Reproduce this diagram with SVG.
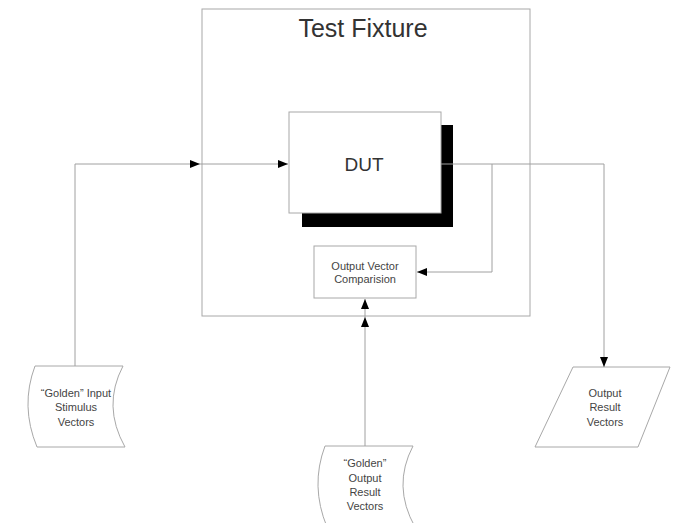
<svg xmlns="http://www.w3.org/2000/svg" width="676" height="523" viewBox="0 0 676 523">
<defs>
<style>
.box{fill:#fff;stroke:#a8a8a8;stroke-width:1}
.ln{fill:none;stroke:#a0a0a0;stroke-width:1}
.t{font-family:"Liberation Sans",Arial,sans-serif;fill:#333;text-anchor:middle}
.s{font-size:11px;fill:#444}
</style>
<marker id="ah" viewBox="0 0 10 8" refX="10" refY="4" markerWidth="10" markerHeight="8" markerUnits="userSpaceOnUse" orient="auto">
<path d="M0,0 L10,4 L0,8 Z" fill="#000"/>
</marker>
</defs>
<rect width="676" height="523" fill="#fff"/>
<g id="fixture">
<rect class="box" x="202" y="9" width="328" height="307"/>
<text class="t" x="363" y="37" font-size="25" fill="#222">Test Fixture</text>
</g>
<g id="dut">
<rect x="302" y="125" width="151" height="102" fill="#000"/>
<rect class="box" x="289" y="112" width="152" height="101"/>
<text class="t" x="364" y="171" font-size="19">DUT</text>
</g>
<g id="comparison">
<rect class="box" x="314" y="246" width="102" height="52"/>
<text class="t s" x="365" y="270">Output Vector</text>
<text class="t s" x="365" y="283">Comparision</text>
</g>
<g id="golden-input">
<path class="box" d="M35,366 L123,366 Q102,406 125,447 L37,447 Q20,406 35,366 Z"/>
<text class="t s" x="76" y="397">“Golden” Input</text>
<text class="t s" x="76" y="411">Stimulus</text>
<text class="t s" x="76" y="426">Vectors</text>
</g>
<g id="golden-output">
<path class="box" d="M325,446 L413,446 Q392,486 415,527 L327,527 Q310,486 325,446 Z"/>
<text class="t s" x="365" y="467">“Golden”</text>
<text class="t s" x="365" y="482">Output</text>
<text class="t s" x="365" y="496">Result</text>
<text class="t s" x="365" y="510">Vectors</text>
</g>
<g id="output-result">
<path class="box" d="M573,367 L670,367 L638,447 L535,447 Z"/>
<text class="t s" x="605" y="397">Output</text>
<text class="t s" x="605" y="411">Result</text>
<text class="t s" x="605" y="426">Vectors</text>
</g>
<g id="connectors">
<path class="ln" d="M75,366 L75,164 L200,164" marker-end="url(#ah)"/>
<path class="ln" d="M200,164 L288,164" marker-end="url(#ah)"/>
<path class="ln" d="M441,164 L604,164 L604,367" marker-end="url(#ah)"/>
<path class="ln" d="M492,164 L492,272 L417,272" marker-end="url(#ah)"/>
<path class="ln" d="M365,446 L365,317" marker-end="url(#ah)"/>
<path class="ln" d="M365,317 L365,299" marker-end="url(#ah)"/>
</g>
</svg>
